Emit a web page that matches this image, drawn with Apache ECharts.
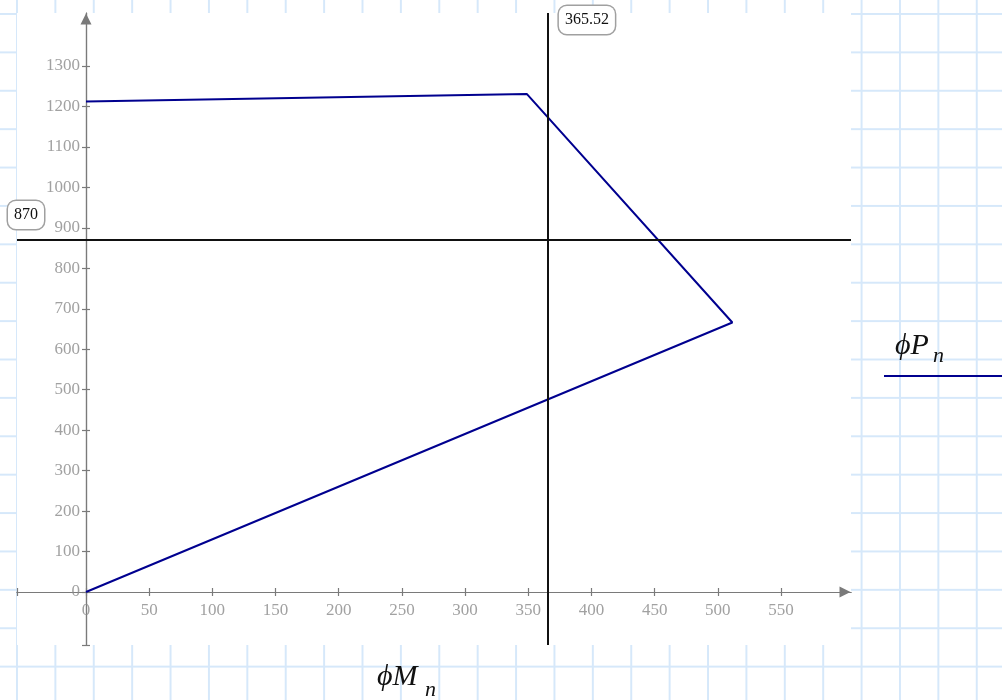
<!DOCTYPE html>
<html>
<head>
<meta charset="utf-8">
<script src="https://cdn.jsdelivr.net/npm/echarts@6/dist/echarts.min.js"></script>
<style>
  html, body { margin: 0; padding: 0; }
  body {
    width: 1002px; height: 700px; overflow: hidden;
    background-color: #fff;
    background-image:
      linear-gradient(to right, #d6e8fa 1.5px, transparent 1.5px),
      linear-gradient(to bottom, #d6e8fa 1.5px, transparent 1.5px);
    background-size: 38.4px 38.4px;
    background-position: 16px 13px;
  }
  #chart { width: 1002px; height: 700px; }
</style>
</head>
<body>
<div id="chart"></div>
<script>
// phiMn (x) and phiPn (y) of the interaction curve, in drawing order
var mnValues = [0, 348.8, 511.5, 0]
var pnValues = [1212, 1231, 666, 0]

var xTicks = [0, 50, 100, 150, 200, 250, 300, 350, 400, 450, 500, 550]
var yTicks = [0, 100, 200, 300, 400, 500, 600, 700, 800, 900, 1000, 1100, 1200, 1300]
var xRange = [-54.6, 605.4]
var yRange = [-131, 1431]

var pnLimit = 870
var mnLimit = 365.52

var axisGray = '#7a7a7a'
var labelFont = { color: '#8a8a8a', fontFamily: 'Liberation Serif', fontSize: 17 }
var boxLabel = {
  color: '#111', fontFamily: 'Liberation Serif', fontSize: 16,
  backgroundColor: '#fff', borderColor: '#a0a0a0', borderWidth: 1.5,
  borderRadius: 8, padding: [6, 6, 6, 6]
}
var mathFont = '"Liberation Serif", "DejaVu Serif"'

var points = mnValues.map(function (m, i) { return [m, pnValues[i]] })

// axis labels are drawn as text on the zero lines, like the Mathcad plot
function tickLabels(data, pos, dist, idx) {
  return {
    type: 'scatter', silent: true, symbolSize: 0,
    data: data,
    label: Object.assign({
      show: true, position: pos, distance: dist,
      formatter: function (p) { return String(p.value[idx]) }
    }, labelFont),
    z: 5
  }
}

function xAxis(inside) {
  return {
    type: 'value', position: 'bottom', min: xRange[0], max: xRange[1],
    axisLine: {
      onZero: true, onZeroAxisIndex: 0,
      symbol: inside ? 'none' : ['none', 'triangle'], symbolSize: [11, 11], symbolOffset: [0, -6],
      lineStyle: { color: axisGray, width: 1.2 }
    },
    axisTick: {
      show: true, inside: inside, length: 4,
      customValues: [xRange[0]].concat(xTicks),
      lineStyle: { color: axisGray, width: 1.2 }
    },
    axisLabel: { show: false },
    splitLine: { show: false }
  }
}

function yAxis(inside) {
  return {
    type: 'value', position: 'left', min: yRange[0], max: yRange[1],
    axisLine: {
      onZero: true, onZeroAxisIndex: 0,
      symbol: inside ? 'none' : ['none', 'triangle'], symbolSize: [11, 11], symbolOffset: [0, -6],
      lineStyle: { color: axisGray, width: 1.2 }
    },
    axisTick: {
      show: true, inside: inside, length: 4,
      customValues: [yRange[0]].concat(yTicks),
      lineStyle: { color: axisGray, width: 1.2 }
    },
    axisLabel: { show: false },
    splitLine: { show: false }
  }
}

var chart = echarts.init(document.getElementById('chart'))
chart.setOption({
  animation: false,
  grid: {
    left: 17, top: 13, right: 151, bottom: 55,
    outerBoundsMode: 'none', containLabel: false,
    show: true, backgroundColor: '#fff', borderWidth: 0
  },
  xAxis: [xAxis(false), xAxis(true)],
  yAxis: [yAxis(false), yAxis(true)],
  series: [
    {
      name: 'ϕPn',
      type: 'line',
      xAxisIndex: 0, yAxisIndex: 0,
      data: points,
      showSymbol: false,
      lineStyle: { color: '#00008f', width: 2 },
      z: 3,
      markLine: {
        silent: true,
        symbol: ['none', 'none'],
        lineStyle: { color: '#111', width: 2, type: 'solid' },
        data: [
          { yAxis: pnLimit, label: Object.assign({ position: 'insideStartTop', formatter: String(pnLimit), offset: [-14, -6] }, boxLabel) },
          { xAxis: mnLimit, label: Object.assign({ position: 'end', formatter: String(mnLimit), offset: [39, 26] }, boxLabel) }
        ]
      }
    },
    tickLabels(xTicks.map(function (v) { return [v, 0] }), 'bottom', 10, 0),
    tickLabels(yTicks.map(function (v) { return [0, v] }), 'left', 6, 1)
  ],
  graphic: [
    { type: 'text', left: 377, top: 662, style: { text: 'ϕM', font: 'italic 30px ' + mathFont, fill: '#111' } },
    { type: 'text', left: 425, top: 679, style: { text: 'n', font: 'italic 22px ' + mathFont, fill: '#111' } },
    { type: 'text', left: 895, top: 331, style: { text: 'ϕP', font: 'italic 30px ' + mathFont, fill: '#111' } },
    { type: 'text', left: 933, top: 345, style: { text: 'n', font: 'italic 22px ' + mathFont, fill: '#111' } },
    { type: 'line', shape: { x1: 884, y1: 376, x2: 1002, y2: 376 }, style: { stroke: '#00008f', lineWidth: 2 } }
  ]
})
</script>
</body>
</html>
